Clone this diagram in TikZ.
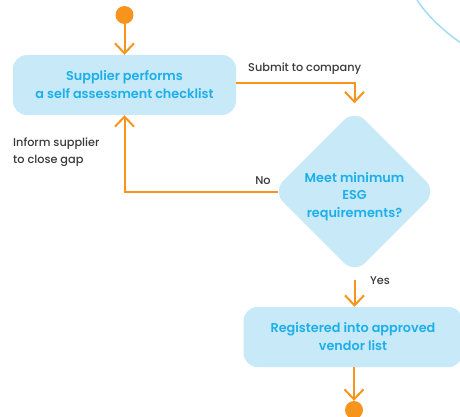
\documentclass[tikz,border=0pt]{standalone}
\usepackage{fontspec}
\setmainfont{Poppins}
\newfontfamily\medfont{Poppins Medium}
\newfontfamily\semifont{Poppins SemiBold}
\usetikzlibrary{arrows.meta,shapes.geometric}
\definecolor{orng}{HTML}{F7941D}
\definecolor{boxfill}{HTML}{C7E9F8}
\definecolor{boxtext}{HTML}{1DAFEA}
\definecolor{lbl}{HTML}{3A3A3A}
\definecolor{arcblue}{HTML}{A3DBF4}
\tikzset{
  flow/.style={draw=orng, line width=2pt, -{Straight Barb[length=10pt,width=19pt,line width=2pt]}},
  stepbox/.style={rectangle, rounded corners=14pt, fill=boxfill, text=boxtext,
    font=\semifont\fontsize{12.8}{18}\selectfont, align=center, inner sep=0pt},
  decide/.style={diamond, aspect=1, rounded corners=15pt, fill=boxfill,
    inner sep=0pt, minimum width=164pt, minimum height=164pt},
  dtext/.style={text=boxtext, font=\semifont\fontsize{12.8}{17.5}\selectfont,
    align=center, inner sep=0pt},
  terminal/.style={circle, fill=orng, minimum size=18pt, inner sep=0pt},
  lbltext/.style={text=lbl, font=\medfont\fontsize{11.3}{17}\selectfont, inner sep=0pt}
}
\begin{document}
\begin{tikzpicture}[x=1pt,y=-1pt]
\useasboundingbox (0,0) rectangle (460,417);
% decorative arc
\draw[arcblue, line width=1.5pt] (417,0) .. controls (426,14) and (442,30) .. (461,43);
% nodes
\node[terminal] (start) at (124.5,15) {};
\node[stepbox, minimum width=223pt, minimum height=60pt] (s1) at (124.5,85)
  {Supplier performs\\a self assessment checklist};
\node[decide] (d) at (354.5,191.5) {};
\node[dtext] (dt) at ([yshift=-5pt]d.center) {Meet minimum\\ESG\\requirements?};
\node[stepbox, minimum width=219pt, minimum height=60pt] (s2) at (353,337)
  {Registered into approved\\vendor list};
\node[terminal] (stop) at (354,410) {};
\coordinate (c1) at (354.5,83);
\coordinate (c2) at (124.5,191.5);
% connectors
\draw[flow] (start) -- (s1.north);
\draw[flow, shorten >=6pt] (s1.east |- c1) -- (c1) -- (d.north);
\draw[flow] ([xshift=6pt]d.west) -- (c2) -- (s1.south);
\draw[flow, shorten <=6pt] (d.south) -- (s2.north -| d.south);
\draw[flow] (s2.south -| stop) -- (stop.north);
% labels
\node[lbltext, anchor=west] (l1) at (248,69) {Submit to company};
\node[lbltext] (l2) at (263,181) {No};
\node[lbltext] (l3) at (380,281) {Yes};
\node[lbltext, anchor=north west, align=left] (l4) at (13,138) {Inform supplier\\to close gap};
\end{tikzpicture}
\end{document}
